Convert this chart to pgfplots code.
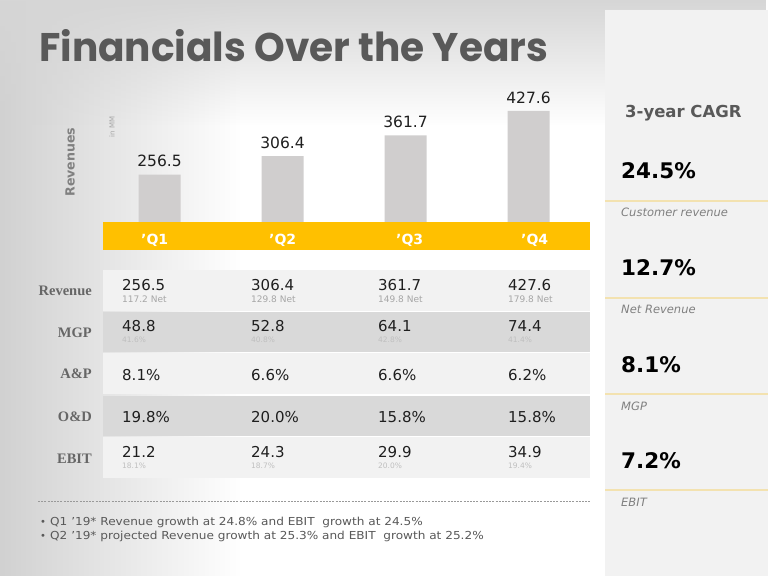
\documentclass[border=0pt]{standalone}
\usepackage{pgfplots}
\pgfplotsset{compat=1.18}
\usetikzlibrary{fadings}
\usepackage{fontspec}
\setmainfont{DejaVu Sans}
\newfontfamily\titlefont{Poppins}
\newfontfamily\labfont{Liberation Serif}
\definecolor{ttl}{HTML}{595959}
\definecolor{barc}{HTML}{D0CECE}
\definecolor{yel}{HTML}{FFC000}
\definecolor{rowA}{HTML}{F2F2F2}
\definecolor{rowB}{HTML}{D9D9D9}
\definecolor{panel}{HTML}{F2F2F2}
\definecolor{pline}{HTML}{F3E2B0}
\definecolor{val}{HTML}{1F1F1F}
\definecolor{sub}{HTML}{A6A6A6}
\definecolor{lab}{HTML}{666666}
\newcommand{\fs}[1]{\fontsize{#1}{#1}\selectfont}
\begin{document}
\begin{tikzpicture}
\begin{scope}[x=1pt,y=-1pt,shift={(0pt,576pt)}]
\path[use as bounding box] (0,0) rectangle (768,576);
\fill[white] (0,0) rectangle (768,576);
\fill[black!18, path fading=east] (0,0) rectangle (240,576);
\fill[black!16, path fading=south] (0,0) rectangle (768,125);
\fill[panel] (605,10) rectangle (768,576);
% title
\node[anchor=base west, inner sep=0, text=ttl] at (39,62) {\resizebox{509pt}{32pt}{\titlefont\bfseries Financials Over the Years}};
% chart decorations
\fill[yel] (103,222) rectangle (590,250);
\foreach \xx/\q in {141/1,269/2,396/3,521/4}
  \node[anchor=base west, inner sep=0, text=white] at (\xx,245) {\fs{14}\bfseries 'Q\q};
\node[rotate=90, text=black!50, inner sep=0] at (70,162) {\fs{12.6}\bfseries Revenues};
\node[rotate=90, text=black!35, inner sep=0] at (112,127) {\fs{7}in MM};
% table rows
\fill[rowA] (103,270) rectangle (590,311.5);
\fill[rowB] (103,312.5) rectangle (590,352.5);
\fill[rowA] (103,353.5) rectangle (590,394.5);
\fill[rowB] (103,395.5) rectangle (590,435.5);
\fill[rowA] (103,436.5) rectangle (590,478);
% row labels
\foreach \yy/\t in {296/Revenue,338/MGP,379/A\&P,421/O\&D,463/EBIT}
  \node[anchor=base east, inner sep=0, text=lab] at (92,\yy) {\fs{14.5}\labfont\bfseries \t};
% values
\foreach \xx/\a/\b/\c/\d/\e/\f/\g/\h in {
  122/256.5/117.2 Net/48.8/41.6\%/8.1\%/19.8\%/21.2/18.1\%,
  251/306.4/129.8 Net/52.8/40.8\%/6.6\%/20.0\%/24.3/18.7\%,
  378/361.7/149.8 Net/64.1/42.8\%/6.6\%/15.8\%/29.9/20.0\%,
  508/427.6/179.8 Net/74.4/41.4\%/6.2\%/15.8\%/34.9/19.4\%}{
  \node[anchor=base west, inner sep=0, text=val] at (\xx,291) {\fs{15}\a};
  \node[anchor=base west, inner sep=0, text=sub] at (\xx,303) {\fs{9}\b};
  \node[anchor=base west, inner sep=0, text=val] at (\xx,332) {\fs{15}\c};
  \node[anchor=base west, inner sep=0, text=black!25] at (\xx,343) {\fs{7.5}\d};
  \node[anchor=base west, inner sep=0, text=val] at (\xx,380) {\fs{15}\e};
  \node[anchor=base west, inner sep=0, text=val] at (\xx,422) {\fs{15}\f};
  \node[anchor=base west, inner sep=0, text=val] at (\xx,457) {\fs{15}\g};
  \node[anchor=base west, inner sep=0, text=black!25] at (\xx,468) {\fs{7.5}\h};
}
% right panel
\node[anchor=base west, inner sep=0, text=ttl] at (625,118) {\fs{16.5}\bfseries 3-year CAGR};
\foreach \yy/\v/\t in {179/24.5\%/Customer revenue,276/12.7\%/Net Revenue,372/8.1\%/MGP,468/7.2\%/EBIT}{
  \node[anchor=base west, inner sep=0, text=black] at (621,\yy) {\fs{21.5}\bfseries \v};
  \draw[pline, line width=2pt] (605,\yy+22) -- (768,\yy+22);
  \node[anchor=base west, inner sep=0, text=black!50] at (621,\yy+38) {\fs{11.5}\itshape \t};
}
% notes
\draw[black!40, line width=0.6pt, dash pattern=on 2pt off 1.2pt] (38,501) -- (590,501);
\node[anchor=base west, inner sep=0, text=ttl] at (40,525) {\fs{10}\textbullet};
\node[anchor=base west, inner sep=0, text=ttl] at (40,539) {\fs{10}\textbullet};
\node[anchor=base west, inner sep=0, text=ttl] at (50,525) {\scalebox{1.1}[1]{\fs{11}Q1 '19* Revenue growth at 24.8\% and EBIT\ \ growth at 24.5\%}};
\node[anchor=base west, inner sep=0, text=ttl] at (50,539) {\scalebox{1.1}[1]{\fs{11}Q2 '19* projected Revenue growth at 25.3\% and EBIT\ \ growth at 25.2\%}};
\end{scope}
\begin{axis}[at={(98pt,354pt)}, anchor=south west, scale only axis,
  width=492pt, height=142pt, xmin=-0.5, xmax=3.5, ymin=130, ymax=510,
  axis lines=none, clip=false, ybar, bar width=42pt, bar shift=0pt,
  nodes near coords,
  /pgf/number format/assume math mode=true,
  /pgf/number format/fixed, /pgf/number format/precision=1,
  /pgf/number format/fixed zerofill,
  every node near coord/.append style={font=\fs{15.5}, text=val, yshift=4pt}]
\addplot[fill=barc, draw=none] coordinates {(0,256.5) (1,306.4) (2,361.7) (3,427.6)};
\end{axis}
\end{tikzpicture}
\end{document}
